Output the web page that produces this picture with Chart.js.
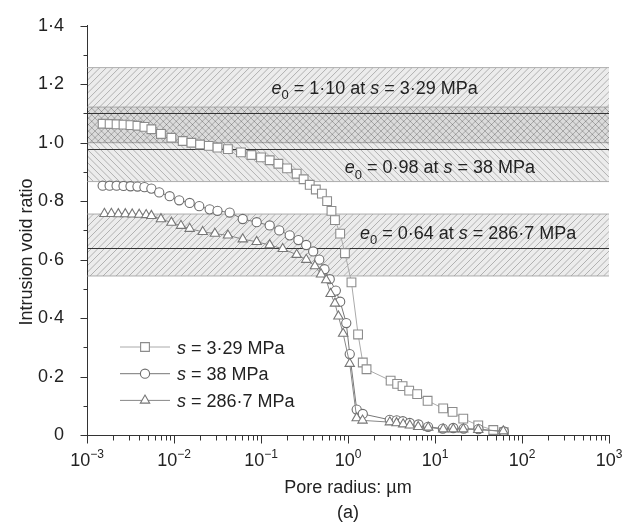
<!DOCTYPE html>
<html>
<head>
<meta charset="utf-8">
<script src="https://cdn.jsdelivr.net/npm/chart.js@4.4.0/dist/chart.umd.min.js"></script>
<style>
	html, body { margin: 0; padding: 0; background: #fff; }
	#wrap { width: 633px; height: 522px; }
</style>
</head>
<body>
<div id="wrap"><canvas id="js-mip-chart" width="633" height="522"></canvas></div>
<script>
// pore radius (µm) / intrusion void ratio
const radiusA = [0.001514, 0.00182, 0.002188, 0.00263, 0.003162, 0.003802, 0.004571, 0.005495, 0.007079, 0.009333, 0.01259, 0.01585, 0.01995, 0.02512, 0.03162, 0.04169, 0.05888, 0.07762, 0.1, 0.1259, 0.1585, 0.1995, 0.257, 0.309, 0.3631, 0.4266, 0.5012, 0.5754, 0.6457, 0.7079, 0.8128, 0.9226, 1.096, 1.306, 1.479, 1.633, 3.09, 3.673, 4.236, 5.047, 6.237, 8.222, 12.42, 15.92, 21.13, 31.41, 46.77, 61.66];
const voidA = [1.065, 1.064, 1.063, 1.062, 1.06, 1.058, 1.054, 1.046, 1.03, 1.017, 1.006, 1.0, 0.994, 0.989, 0.983, 0.978, 0.967, 0.958, 0.95, 0.94, 0.928, 0.912, 0.894, 0.875, 0.856, 0.84, 0.826, 0.8, 0.767, 0.735, 0.689, 0.622, 0.522, 0.344, 0.248, 0.225, 0.186, 0.175, 0.167, 0.152, 0.14, 0.117, 0.091, 0.079, 0.056, 0.033, 0.017, 0.01];

const radiusB = [0.001514, 0.00182, 0.002188, 0.00263, 0.003162, 0.003802, 0.004571, 0.005495, 0.006761, 0.008913, 0.01148, 0.01514, 0.0195, 0.0257, 0.03162, 0.04365, 0.06166, 0.08913, 0.1259, 0.1622, 0.2138, 0.2692, 0.3311, 0.3981, 0.4677, 0.537, 0.6166, 0.7244, 0.8128, 0.955, 1.047, 1.259, 1.479, 3.02, 3.631, 4.266, 5.129, 6.457, 8.318, 12.3, 16.22, 21.38, 31.62, 61.66];
const voidB = [0.853, 0.853, 0.853, 0.852, 0.851, 0.85, 0.848, 0.843, 0.83, 0.817, 0.803, 0.794, 0.783, 0.772, 0.767, 0.761, 0.739, 0.728, 0.717, 0.7, 0.683, 0.667, 0.65, 0.628, 0.6, 0.567, 0.533, 0.494, 0.456, 0.383, 0.277, 0.087, 0.072, 0.052, 0.05, 0.047, 0.041, 0.036, 0.028, 0.022, 0.024, 0.022, 0.02, 0.012];

const radiusC = [0.001585, 0.001905, 0.002291, 0.002754, 0.003311, 0.003981, 0.004786, 0.005495, 0.007079, 0.009333, 0.01202, 0.01514, 0.02138, 0.02951, 0.04169, 0.06166, 0.08913, 0.1259, 0.1778, 0.257, 0.3311, 0.4169, 0.4898, 0.5623, 0.631, 0.7079, 0.7762, 0.879, 1.047, 1.259, 1.469, 3.027, 3.614, 4.305, 5.14, 6.412, 8.356, 12.42, 16.22, 21.13, 31.41, 60.95];
const voidC = [0.757, 0.757, 0.756, 0.756, 0.755, 0.754, 0.753, 0.75, 0.739, 0.727, 0.716, 0.706, 0.695, 0.689, 0.683, 0.67, 0.661, 0.65, 0.637, 0.617, 0.6, 0.578, 0.55, 0.53, 0.483, 0.45, 0.406, 0.347, 0.244, 0.058, 0.05, 0.044, 0.041, 0.037, 0.033, 0.028, 0.026, 0.02, 0.02, 0.02, 0.018, 0.013];

const suctions = ['3·29', '38', '286·7'];
const e0Values = [1.10, 0.98, 0.64];
const bandTop = [1.257, 1.122, 0.756];
const bandBottom = [1.0, 0.867, 0.544];

const yTicks = [0, 0.2, 0.4, 0.6, 0.8, 1.0, 1.2, 1.4];
const yMinor = [0.1, 0.3, 0.5, 0.7, 0.9, 1.1, 1.3];
const xTicks = [0.001, 0.01, 0.1, 1, 10, 100, 1000];

// where the band captions sit (data coords of the left end / vertical centre)
const captionX = [0.132, 0.918, 1.37];
const captionY = [1.19, 0.917, 0.694];
const hatchDir = [1, -1, 1];

const FONT = '"Liberation Sans", Arial, Helvetica, sans-serif';
const INK = '#222';
const SIZE = 18;

function toPoints(xs, ys) {
	return xs.map((x, i) => ({ x: x, y: ys[i] }));
}

function dot(v, digits) {
	return v.toFixed(digits).replace('.', '·');
}

// draws a run of text pieces, italic / subscript / superscript, left to right
function richText(ctx, parts, x, y, size) {
	ctx.textBaseline = 'alphabetic';
	ctx.textAlign = 'left';
	for (const p of parts) {
		let s = size;
		let dy = 0;
		if (p.sub) { s = Math.round(size * 0.7); dy = size * 0.28; }
		if (p.sup) { s = Math.round(size * 0.68); dy = -size * 0.42; }
		ctx.font = (p.i ? 'italic ' : '') + s + 'px ' + FONT;
		ctx.fillText(p.t, x, y + dy);
		x += ctx.measureText(p.t).width;
	}
	return x;
}

function richWidth(ctx, parts, size) {
	let w = 0;
	for (const p of parts) {
		let s = size;
		if (p.sub) s = Math.round(size * 0.7);
		if (p.sup) s = Math.round(size * 0.68);
		ctx.font = (p.i ? 'italic ' : '') + s + 'px ' + FONT;
		w += ctx.measureText(p.t).width;
	}
	return w;
}

function hatch(ctx, area, yTop, yBot, dir) {
	const w = area.right - area.left;
	const h = yBot - yTop;
	ctx.save();
	ctx.beginPath();
	ctx.rect(area.left, yTop, w, h);
	ctx.clip();
	ctx.fillStyle = 'rgba(0,0,0,0.075)';
	ctx.fillRect(area.left, yTop, w, h);
	ctx.strokeStyle = 'rgba(0,0,0,0.33)';
	ctx.lineWidth = 0.8;
	ctx.beginPath();
	for (let x = area.left - h; x < area.right + h; x += 6.5) {
		if (dir > 0) {
			ctx.moveTo(x, yBot);
			ctx.lineTo(x + h, yTop);
		} else {
			ctx.moveTo(x, yTop);
			ctx.lineTo(x + h, yBot);
		}
	}
	ctx.stroke();
	ctx.restore();
	ctx.save();
	ctx.strokeStyle = '#999';
	ctx.lineWidth = 0.8;
	ctx.beginPath();
	ctx.moveTo(area.left, yTop);
	ctx.lineTo(area.right, yTop);
	ctx.moveTo(area.left, yBot);
	ctx.lineTo(area.right, yBot);
	ctx.stroke();
	ctx.restore();
}

const bandsPlugin = {
	id: 'bands',
	beforeDatasetsDraw(chart) {
		const ctx = chart.ctx;
		const area = chart.chartArea;
		const xs = chart.scales.x;
		const ys = chart.scales.y;
		bandTop.forEach((top, i) => {
			hatch(ctx, area, ys.getPixelForValue(top), ys.getPixelForValue(bandBottom[i]), hatchDir[i]);
		});
		ctx.save();
		ctx.strokeStyle = '#333';
		ctx.lineWidth = 1;
		e0Values.forEach((e) => {
			const py = Math.round(ys.getPixelForValue(e)) + 0.5;
			ctx.beginPath();
			ctx.moveTo(area.left, py);
			ctx.lineTo(area.right, py);
			ctx.stroke();
		});
		ctx.fillStyle = INK;
		e0Values.forEach((e, i) => {
			const parts = [
				{ t: 'e', i: true }, { t: '0', sub: true }, { t: ' = ' + dot(e, 2) + ' at ' },
				{ t: 's', i: true }, { t: ' = ' + suctions[i] + ' MPa' },
			];
			richText(ctx, parts, xs.getPixelForValue(captionX[i]), ys.getPixelForValue(captionY[i]) + 6.5, SIZE);
		});
		ctx.restore();
	},
	afterDraw(chart) {
		const ctx = chart.ctx;
		const area = chart.chartArea;
		const xs = chart.scales.x;
		const ys = chart.scales.y;
		ctx.save();
		ctx.strokeStyle = '#333';
		ctx.lineWidth = 1;
		ctx.beginPath();
		const ax = Math.round(area.left) + 0.5;
		const by = Math.round(area.bottom) + 0.5;
		yTicks.forEach((v) => {
			const py = Math.round(ys.getPixelForValue(v)) + 0.5;
			ctx.moveTo(ax - 7, py);
			ctx.lineTo(ax, py);
		});
		yMinor.forEach((v) => {
			const py = Math.round(ys.getPixelForValue(v)) + 0.5;
			ctx.moveTo(ax - 4, py);
			ctx.lineTo(ax, py);
		});
		xTicks.forEach((v, k) => {
			const px = Math.round(xs.getPixelForValue(v)) + 0.5;
			ctx.moveTo(px, by);
			ctx.lineTo(px, by + 8);
			if (k < xTicks.length - 1) {
				for (let m = 2; m < 10; m++) {
					const qx = Math.round(xs.getPixelForValue(v * m)) + 0.5;
					ctx.moveTo(qx, by);
					ctx.lineTo(qx, by + 5);
				}
			}
		});
		ctx.stroke();

		// x tick labels: 10 with a raised exponent
		ctx.fillStyle = INK;
		xTicks.forEach((v) => {
			const n = Math.round(Math.log10(v));
			const parts = [{ t: '10' }, { t: (n < 0 ? '\u2212' : '') + Math.abs(n), sup: true }];
			const w = richWidth(ctx, parts, SIZE);
			richText(ctx, parts, xs.getPixelForValue(v) - w / 2, area.bottom + 31, SIZE);
		});

		// axis titles
		ctx.font = SIZE + 'px ' + FONT;
		ctx.textAlign = 'center';
		ctx.textBaseline = 'middle';
		ctx.fillText('Pore radius: \u00b5m', (area.left + area.right) / 2, 488);
		ctx.fillText('(a)', (area.left + area.right) / 2, 513);
		ctx.save();
		ctx.translate(27, 252);
		ctx.rotate(-Math.PI / 2);
		ctx.fillText('Intrusion void ratio', 0, 0);
		ctx.restore();

		// legend in the lower left corner
		chart.data.datasets.forEach((ds, i) => {
			const ly = 347 + i * 26.7;
			ctx.strokeStyle = ds.borderColor;
			ctx.lineWidth = 1;
			ctx.beginPath();
			ctx.moveTo(120, ly);
			ctx.lineTo(170, ly);
			ctx.stroke();
			ctx.fillStyle = '#fff';
			ctx.strokeStyle = ds.pointBorderColor;
			ctx.lineWidth = ds.pointBorderWidth;
			Chart.helpers.drawPoint(ctx, { pointStyle: ds.pointStyle, radius: ds.pointRadius, borderWidth: ds.pointBorderWidth, rotation: 0 }, 145, ly);
			ctx.fillStyle = INK;
			richText(ctx, [{ t: 's', i: true }, { t: ' = ' + suctions[i] + ' MPa' }], 177, ly + 6.5, SIZE);
		});
		ctx.restore();
	},
};

function seriesStyle(style, radius, line, edge) {
	return {
		pointStyle: style,
		pointRadius: radius,
		pointHoverRadius: radius,
		pointBackgroundColor: '#fff',
		pointBorderColor: edge,
		pointBorderWidth: 1.1,
		borderColor: line,
		borderWidth: 1,
		showLine: true,
		fill: false,
		tension: 0,
	};
}

const ctx = document.getElementById('js-mip-chart');
const mipChart = new Chart(ctx, {
	type: 'line',
	data: {
		datasets: [
			Object.assign({ label: 's = ' + suctions[0] + ' MPa', data: toPoints(radiusA, voidA), order: 3 }, seriesStyle('rect', 6.2, '#aaa', '#8c8c8c')),
			Object.assign({ label: 's = ' + suctions[1] + ' MPa', data: toPoints(radiusB, voidB), order: 2 }, seriesStyle('circle', 4.6, '#777', '#6e6e6e')),
			Object.assign({ label: 's = ' + suctions[2] + ' MPa', data: toPoints(radiusC, voidC), order: 1 }, seriesStyle('triangle', 5.4, '#888', '#777')),
		],
	},
	options: {
		responsive: false,
		animation: false,
		layout: { padding: { top: 15, right: 24, left: 0, bottom: 0 } },
		plugins: {
			legend: { display: false },
			tooltip: { enabled: false },
		},
		scales: {
			x: {
				type: 'logarithmic',
				min: 0.001,
				max: 1000,
				grid: { display: false },
				border: { display: true, color: '#333', width: 1 },
				ticks: { display: false },
				afterFit: (scale) => { scale.height = 87; },
			},
			y: {
				type: 'linear',
				min: 0,
				max: 1.4,
				grid: { display: false },
				border: { display: true, color: '#333', width: 1 },
				ticks: {
					stepSize: 0.2,
					padding: 15,
					color: INK,
					font: { size: SIZE, family: FONT },
					callback: (v) => (v === 0 ? '0' : dot(v, 1)),
				},
				afterFit: (scale) => { scale.width = 87; },
			},
		},
	},
	plugins: [bandsPlugin],
});
</script>
</body>
</html>
